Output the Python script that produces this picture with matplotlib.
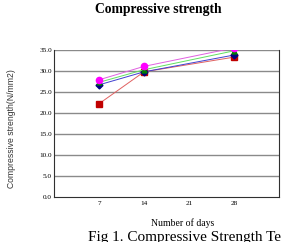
import matplotlib.pyplot as plt

days = [7, 14, 28]
red_vals = [22.2, 29.8, 33.3]
blue_vals = [26.7, 29.8, 33.8]
green_vals = [27.3, 30.3, 34.8]
magenta_vals = [27.9, 31.1, 35.5]

xticks = [7, 14, 21, 28]
yticks = [0, 5, 10, 15, 20, 25, 30, 35]

fig = plt.figure(figsize=(2.88, 2.42), dpi=100)
ax = fig.add_axes([54 / 288, 1 - 197 / 242, 225 / 288, 147 / 242])

for y in yticks[1:]:
    ax.axhline(y, color='#8a8a8a', linewidth=1.0, zorder=1)

ax.plot(days, red_vals, '-s', color='#e06060', mfc='#c00000', mec='#c00000', ms=4, lw=0.7, zorder=3)
ax.plot(days, blue_vals, '-D', color='#4040d0', mfc='#000080', mec='#000080', ms=3.5, lw=0.7, zorder=3)
ax.plot(days, green_vals, '-^', color='#60e060', mfc='#008000', mec='#008000', ms=3.5, lw=0.7, zorder=3)
ax.plot(days, magenta_vals, '-o', color='#e060e0', mfc='#ff00ff', mec='#ff00ff', ms=4.5, lw=0.7, zorder=4)

ax.set_xlim(0, 35)
ax.set_ylim(0, 35)
ax.set_xticks(xticks)
ax.set_yticks(yticks)
ax.set_xticklabels([str(t) for t in xticks], family='Liberation Serif', fontsize=5.2)
ax.set_yticklabels(['{:.1f}'.format(t) for t in yticks], family='Liberation Serif', fontsize=5.2)
ax.tick_params(axis='x', length=0, pad=3)
ax.tick_params(axis='y', length=0, pad=1.5)
ax.spines['top'].set_visible(False)
for s in ['left', 'right', 'bottom']:
    ax.spines[s].set_color('#303030')
    ax.spines[s].set_linewidth(0.8)

fig.text(158 / 288, 1 - 9 / 242, 'Compressive strength', ha='center', va='center',
         family='Liberation Serif', fontweight='bold', fontsize=9.8)
fig.text(12 / 288, 1 - 129 / 242, 'Compressive strength(N/mm2)', ha='center', va='center',
         rotation=90, family='Liberation Sans', fontsize=6.2, color='#333333')
fig.text(183 / 288, 1 - 223 / 242, 'Number of days', ha='center', va='center',
         family='Liberation Serif', fontsize=7)
fig.text(88 / 288, 0.004, 'Fig 1. Compressive Strength Te', ha='left', va='baseline',
         family='Liberation Serif', fontsize=11)

plt.savefig('out.png', dpi=100)
